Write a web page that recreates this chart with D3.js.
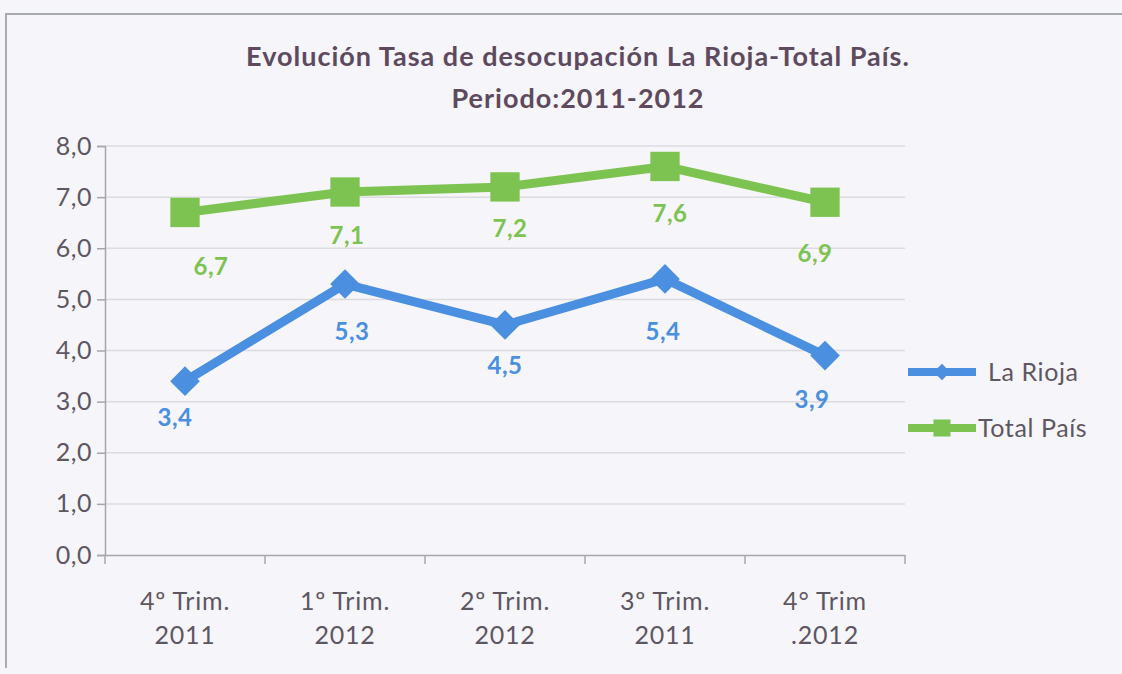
<!DOCTYPE html>
<meta charset="utf-8">
<script src="https://d3js.org/d3.v7.min.js"></script>
<style>
    body { margin: 0; background-color: #f6f5f9; }
    svg { display: block; }
    text { font-family: Lato, "Open Sans", sans-serif; }
</style>
<body>
<div id="chart"></div>
<script>
    // chart data
    const categories = ["4º Trim.|2011", "1º Trim.|2012", "2º Trim.|2012", "3º Trim.|2011", "4° Trim|.2012"];
    const laRioja = [3.4, 5.3, 4.5, 5.4, 3.9];
    const totalPais = [6.7, 7.1, 7.2, 7.6, 6.9];
    const yTicks = [0, 1, 2, 3, 4, 5, 6, 7, 8];
    const titleLines = ["Evolución Tasa de desocupación La Rioja-Total País.", "Periodo:2011-2012"];

    // label nudges (the original labels were dragged by hand)
    const riojaNudge = [[-10, 45], [7, 56], [0, 49], [-2, 61], [-13, 52]];
    const paisNudge = [[26, 63], [2, 52], [5, 50], [5, 56], [-10, 60]];

    const series = [
        { name: "La Rioja", values: laRioja, nudge: riojaNudge, color: "#4a8fe0", symbol: d3.symbolDiamond2, size: 560, legendSize: 170 },
        { name: "Total País", values: totalPais, nudge: paisNudge, color: "#7dc352", symbol: d3.symbolSquare, size: 860, legendSize: 290 }
    ];

    const width = 1122, height = 674;
    const plotLeft = 105, plotRight = 905, plotTop = 146, plotBottom = 555;
    const textColor = "#5e5762";

    const svg = d3.select("#chart").append("svg")
        .attr("width", width)
        .attr("height", height);

    // frame
    svg.append("path")
        .attr("d", "M6,668 L6,14 L1122,14")
        .attr("fill", "none")
        .attr("stroke", "#a8acb0")
        .attr("stroke-width", 2);

    const x = d3.scaleBand().domain(categories).range([plotLeft, plotRight]);
    const y = d3.scaleLinear().domain([0, 8]).range([plotBottom, plotTop]);

    // gridlines
    svg.append("g").selectAll("line")
        .data(yTicks.slice(1))
        .join("line")
        .attr("x1", plotLeft).attr("x2", plotRight)
        .attr("y1", d => y(d)).attr("y2", d => y(d))
        .attr("stroke", "#dcdbe0").attr("stroke-width", 1.5);

    // y axis
    const yAxis = svg.append("g")
        .attr("transform", "translate(" + plotLeft + ",0)")
        .call(d3.axisLeft(y).tickValues(yTicks).tickSize(8).tickPadding(5)
            .tickFormat(d => d3.format(".1f")(d).replace(".", ",")));
    yAxis.select(".domain").attr("stroke", "#a7a6ad").attr("stroke-width", 1.5);
    yAxis.selectAll(".tick line").attr("stroke", "#a7a6ad").attr("stroke-width", 1.5);
    yAxis.selectAll("text").attr("fill", textColor).style("font-size", "25px")
        .style("letter-spacing", "0.5px");

    // x axis
    const xAxis = svg.append("g")
        .attr("transform", "translate(0," + plotBottom + ")")
        .call(d3.axisBottom(x).tickSize(0).tickFormat(""));
    xAxis.select(".domain").attr("stroke", "#a7a6ad").attr("stroke-width", 1.5);
    xAxis.selectAll(".sep")
        .data(d3.range(categories.length + 1))
        .join("line")
        .attr("class", "sep")
        .attr("x1", i => plotLeft + i * x.step()).attr("x2", i => plotLeft + i * x.step())
        .attr("y1", 0).attr("y2", 9)
        .attr("stroke", "#a7a6ad").attr("stroke-width", 1.5);

    const xLabels = svg.append("g").selectAll("text")
        .data(categories)
        .join("text")
        .attr("x", d => x(d) + x.bandwidth() / 2)
        .attr("y", 610)
        .attr("text-anchor", "middle")
        .attr("fill", textColor)
        .style("font-size", "25px")
        .style("letter-spacing", "0.8px");
    xLabels.each(function (d) {
        const parts = d.split("|");
        d3.select(this).selectAll("tspan")
            .data(parts)
            .join("tspan")
            .attr("x", x(d) + x.bandwidth() / 2)
            .attr("dy", (p, i) => i === 0 ? 0 : 34)
            .text(p => p);
    });

    // lines, markers, labels
    const cx = i => x(categories[i]) + x.bandwidth() / 2;
    const line = d3.line()
        .x((d, i) => cx(i))
        .y(d => y(d));

    series.forEach(s => {
        const g = svg.append("g");
        g.append("path")
            .datum(s.values)
            .attr("d", line)
            .attr("fill", "none")
            .attr("stroke", s.color)
            .attr("stroke-width", 9)
            .attr("stroke-linejoin", "round");
        g.selectAll("path.mark")
            .data(s.values)
            .join("path")
            .attr("class", "mark")
            .attr("d", d3.symbol().type(s.symbol).size(s.size))
            .attr("transform", (d, i) => "translate(" + cx(i) + "," + y(d) + ")")
            .attr("fill", s.color);
        g.selectAll("text")
            .data(s.values)
            .join("text")
            .attr("x", (d, i) => cx(i) + s.nudge[i][0])
            .attr("y", (d, i) => y(d) + s.nudge[i][1])
            .attr("text-anchor", "middle")
            .attr("fill", s.color)
            .style("font-size", "24px")
            .style("font-weight", "bold")
            .style("letter-spacing", "0.5px")
            .text(d => d3.format(".1f")(d).replace(".", ","));
    });

    // legend
    const legend = svg.append("g");
    series.forEach((s, i) => {
        const ly = 372 + i * 56;
        legend.append("line")
            .attr("x1", 908).attr("x2", 976)
            .attr("y1", ly).attr("y2", ly)
            .attr("stroke", s.color).attr("stroke-width", 8);
        legend.append("path")
            .attr("d", d3.symbol().type(s.symbol).size(s.legendSize))
            .attr("transform", "translate(942," + ly + ")")
            .attr("fill", s.color);
        legend.append("text")
            .attr("x", i === 0 ? 988 : 978)
            .attr("y", ly + 9)
            .attr("fill", textColor)
            .style("font-size", "25px")
            .style("letter-spacing", "0.6px")
            .text(s.name);
    });

    // title
    svg.append("g").selectAll("text")
        .data(titleLines)
        .join("text")
        .attr("x", 578)
        .attr("y", (d, i) => 66 + i * 42)
        .attr("text-anchor", "middle")
        .attr("fill", "#5d4a5e")
        .style("font-size", "27px")
        .style("font-weight", "bold")
        .style("letter-spacing", "1px")
        .text(d => d);
</script>
</body>
